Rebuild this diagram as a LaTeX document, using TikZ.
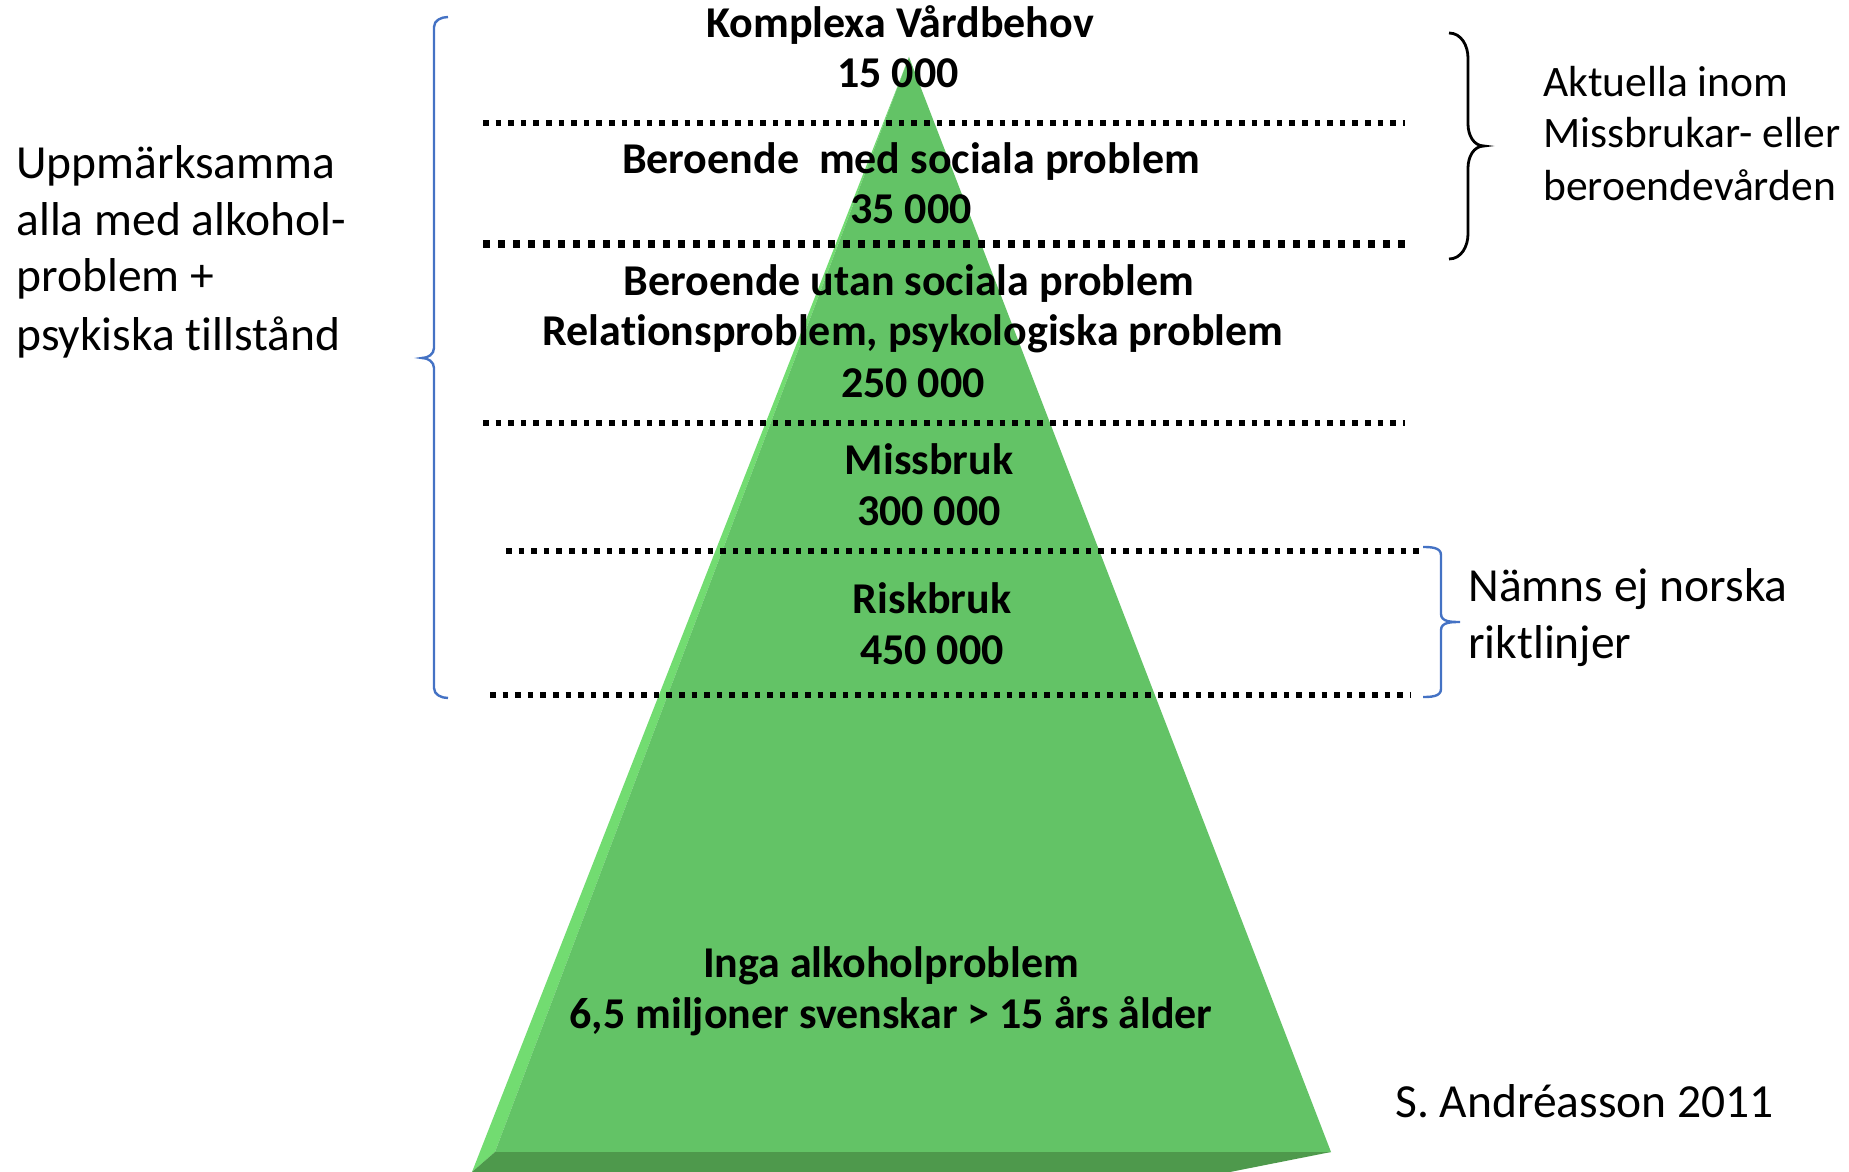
\documentclass[tikz,border=0pt]{standalone}
\usepackage{fontspec}
\setmainfont{Carlito}[Ligatures=NoCommon]
\definecolor{facegreen}{RGB}{99,195,102}
\definecolor{lightgreen}{RGB}{114,220,113}
\definecolor{darkgreen}{RGB}{78,153,76}
\definecolor{braceblue}{RGB}{68,114,196}
\begin{document}
\begin{tikzpicture}[x=0.5pt,y=-0.5pt,
    level/.style={font=\fontsize{22}{26}\selectfont\bfseries,anchor=base,inner sep=0pt},
    side/.style={font=\fontsize{23.75}{28}\selectfont,anchor=base west,inner sep=0pt},
    sidesmall/.style={font=\fontsize{21.75}{26}\selectfont,anchor=base west,inner sep=0pt},
    dots/.style={line width=2.8pt,dash pattern=on 2.8pt off 3.5pt},
    thickdots/.style={line width=3.6pt,dash pattern=on 3.6pt off 3.9pt},
    bluebrace/.style={draw=braceblue,line width=1.2pt},
    blackbrace/.style={draw=black,line width=1.4pt}]
  \useasboundingbox (0,0) rectangle (1849,1172);
  \coordinate (apex) at (909,57);
  \fill[lightgreen] (apex) -- (472,1172) -- (495,1152) -- cycle;
  \fill[facegreen] (apex) -- (495,1152) -- (1331,1152) -- cycle;
  \fill[darkgreen] (495,1152) -- (1331,1152) -- (1230,1172) -- (472,1172) -- cycle;
  \draw[dots] (483,123) -- (1405,123);
  \draw[thickdots] (483,244) -- (1405,244);
  \draw[dots] (483,423) -- (1405,423);
  \draw[dots] (506,551) -- (1425,551);
  \draw[dots] (490,695) -- (1410,695);
  \draw
    (900,38) node[level] (komplexa) {Komplexa Vårdbehov}
    (898,88) node[level] (n15) {15 000}
    (911,174) node[level] (medsoc) {Beroende\ \ med sociala problem}
    (911,223) node[level] (n35) {35 000}
    (909,295) node[level] (utansoc) {Beroende utan sociala problem}
    (913,345) node[level] (relation) {Relationsproblem, psykologiska problem}
    (913,397) node[level] (n250) {250 000}
    (929,474) node[level] (missbruk) {Missbruk}
    (929,525) node[level] (n300) {300 000}
    (932,613) node[level] (riskbruk) {Riskbruk}
    (932,664) node[level] (n450) {450 000}
    (891,977) node[level] (inga) {Inga alkoholproblem}
    (891,1028) node[level] (n65) {6,5 miljoner svenskar > 15 års ålder};
  \draw
    (16,178) node[side] (upp1) {Uppmärksamma}
    (16,235) node[side] (upp2) {alla med alkohol-}
    (16,292) node[side] (upp3) {problem +}
    (16,350) node[side] (upp4) {psykiska tillstånd}
    (1543,97) node[sidesmall] (akt1) {Aktuella inom}
    (1543,148) node[sidesmall] (akt2) {Missbrukar- eller}
    (1543,200) node[sidesmall] (akt3) {beroendevården}
    (1468,601) node[side] (norsk1) {Nämns ej norska}
    (1468,658) node[side] (norsk2) {riktlinjer}
    (1395,1117) node[side] (source) {S. Andréasson 2011};
  \begin{scope}
    \draw[bluebrace] (448,17) to[out=180,in=90] (434,27) -- (434,348)
      to[out=-90,in=0] (422,358) to[out=0,in=90] (434,368) -- (434,688)
      to[out=-90,in=180] (448,698);
    \draw[blackbrace] (1449,33) to[out=0,in=90] (1468,58) -- (1468,124)
      to[out=-90,in=180] (1484,146) to[out=180,in=90] (1468,168) -- (1468,234)
      to[out=-90,in=0] (1449,259);
    \draw[bluebrace] (1423,547) to[out=0,in=90] (1441,555) -- (1441,614)
      to[out=-90,in=180] (1460,622) to[out=180,in=90] (1441,630) -- (1441,689)
      to[out=-90,in=0] (1423,697);
  \end{scope}
\end{tikzpicture}
\end{document}
